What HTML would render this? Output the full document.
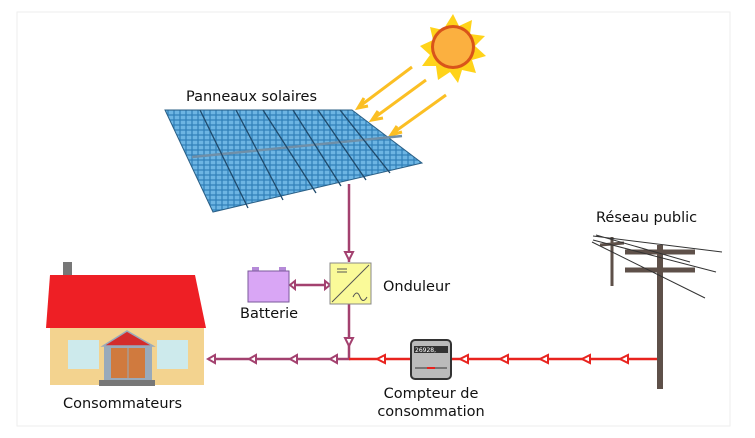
<!DOCTYPE html>
<html><head><meta charset="utf-8"><style>
html,body{margin:0;padding:0;background:#fff;}
svg{display:block;font-family:"DejaVu Sans","Liberation Sans",sans-serif;}
text{fill:#111;font-size:14.5px;}
</style></head><body>
<svg width="755" height="438" viewBox="0 0 755 438">
<defs>
<pattern id="cells" width="6" height="5" patternUnits="userSpaceOnUse">
<rect width="6" height="5" fill="#2f7fb8"/><rect x="0.6" y="0.6" width="4.8" height="3.8" fill="#6db5e3"/>
</pattern>
</defs>
<rect x="17" y="12" width="713" height="414" fill="#fff" stroke="#eee"/>
<g>
<polygon points="453,14 459,26 472,20 470,34 485,36 475,46 486,56 472,60 476,73 462,70 458,83 450,72 438,80 436,66 422,66 430,55 420,46 433,40 430,27 443,30" fill="#ffd31a"/>
<circle cx="453" cy="47" r="22" fill="#d9541a"/>
<circle cx="453" cy="47" r="19" fill="#fbb040"/>
</g>
<g stroke="#fbbf24" stroke-width="3" fill="none">
<path d="M412,67 L360,106 M364,98 L358,108 L368,106"/>
<path d="M426,80 L374,118 M378,111 L372,120 L383,118"/>
<path d="M446,95 L393,133 M397,126 L391,135 L402,132"/>
</g>
<g>
<polygon points="165,110 352,110 422,163 213,212" fill="url(#cells)" stroke="#2a5f86" stroke-width="1"/>
<path d="M192,157 L402,136" stroke="#6f8fa8" stroke-width="2.5"/>
<g stroke="#1f4a6c" stroke-width="1.3">
<path d="M200,110 L248,208 M236,110 L283,200 M263,110 L316,193 M293,110 L341,186 M318,110 L366,180 M340,110 L390,173"/>
</g>
</g>
<text x="186" y="101">Panneaux solaires</text>
<g stroke="#a3416f" stroke-width="2.5" fill="none">
<path d="M349,184 L349,262"/>
<path d="M349,304 L349,359 L208,359"/>
<path d="M290,285 L330,285"/>
</g>
<g fill="#fff" stroke="#a3416f" stroke-width="2">
<polygon points="345,252 353,252 349,260"/>
<polygon points="345,338 353,338 349,346"/>
<polygon points="325,281 325,289 330,285"/>
<polygon points="295,281 295,289 290,285"/>
<polygon points="337,355 337,363 330,359"/>
<polygon points="297,355 297,363 290,359"/>
<polygon points="256,355 256,363 249,359"/>
<polygon points="215,355 215,363 208,359"/>
</g>
<g>
<rect x="330" y="263" width="41" height="41" fill="#fafa99" stroke="#888"/>
<path d="M332,302 L369,265" stroke="#555"/>
<path d="M337,269 h10 M337,272 h10" stroke="#555"/>
<path d="M353,297 q4,-8 7,0 q3,7 7,0" stroke="#555" fill="none"/>
</g>
<text x="383" y="291">Onduleur</text>
<g>
<rect x="252" y="267" width="7" height="5" fill="#b58ad8"/>
<rect x="279" y="267" width="7" height="5" fill="#b58ad8"/>
<rect x="248" y="271" width="41" height="31" fill="#d9a6f5" stroke="#7a5a9a"/>
</g>
<text x="240" y="318">Batterie</text>
<path d="M349,359 L657,359" stroke="#e8231e" stroke-width="2.5"/>
<g fill="#fff" stroke="#e8231e" stroke-width="2">
<polygon points="385,355 385,363 377,359"/>
<polygon points="468,355 468,363 460,359"/>
<polygon points="508,355 508,363 500,359"/>
<polygon points="548,355 548,363 540,359"/>
<polygon points="590,355 590,363 582,359"/>
<polygon points="628,355 628,363 620,359"/>
</g>
<g>
<rect x="411" y="340" width="40" height="39" rx="4" fill="#bbb" stroke="#333" stroke-width="2"/>
<rect x="414" y="346" width="34" height="7" fill="#333"/>
<text x="415" y="352" style="font-size:6px;fill:#fff">26928,</text>
<path d="M415,368 h32" stroke="#333"/><path d="M427,368 h8" stroke="#e8231e" stroke-width="2"/>
</g>
<text x="431" y="398" text-anchor="middle">Compteur de</text>
<text x="431" y="416" text-anchor="middle">consommation</text>
<g stroke="#5e5049">
<path d="M612,237 L612,286" stroke-width="3"/>
<path d="M600,245 L624,243" stroke-width="3"/>
<path d="M660,245 L660,389" stroke-width="6"/>
<path d="M625,252 L695,252 M625,270 L695,270" stroke-width="5"/>
<path d="M593,236 L722,252 M593,240 L716,272 M592,242 L705,298 M596,235 L690,262" stroke="#333" stroke-width="1"/>
</g>
<text x="596" y="222">Réseau public</text>
<g>
<rect x="63" y="262" width="9" height="16" fill="#777"/>
<polygon points="50,275 195,275 206,328 46,328" fill="#ee1f25"/>
<rect x="50" y="328" width="154" height="57" fill="#f3d38f"/>
<rect x="68" y="340" width="31" height="29" fill="#cdeaec"/>
<rect x="157" y="340" width="31" height="29" fill="#cdeaec"/>
<polygon points="103,346 127,331 153,346" fill="#d42c2c" stroke="#9ab" stroke-width="1.5"/>
<rect x="104" y="346" width="48" height="34" fill="#9ab"/>
<rect x="111" y="348" width="34" height="30" fill="#d07a3e"/>
<path d="M128,348 V378" stroke="#9ab"/>
<rect x="99" y="380" width="56" height="6" fill="#777"/>
</g>
<text x="63" y="408">Consommateurs</text>
</svg>
</body></html>
